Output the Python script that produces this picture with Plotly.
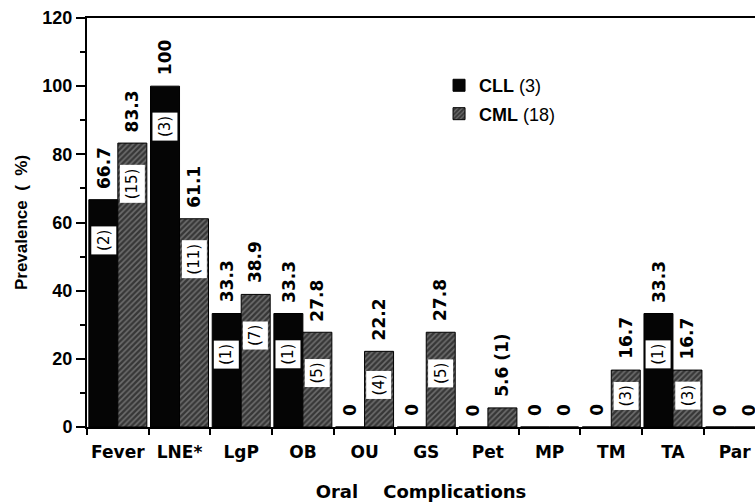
import plotly.graph_objects as go

categories = ["Fever", "LNE*", "LgP", "OB", "OU", "GS", "Pet", "MP", "TM", "TA", "Par"]
cll_values = [66.7, 100, 33.3, 33.3, 0, 0, 0, 0, 0, 33.3, 0]
cml_values = [83.3, 61.1, 38.9, 27.8, 22.2, 27.8, 5.6, 0, 16.7, 16.7, 0]
cll_counts = [2, 3, 1, 1, 0, 0, 0, 0, 0, 1, 0]
cml_counts = [15, 11, 7, 5, 4, 5, 1, 0, 3, 3, 0]
series_names = ["<b>CLL</b> (3)", "<b>CML</b> (18)"]
y_ticks = [0, 20, 40, 60, 80, 100, 120]

BARGAP = 0.06
VAL_FONT = dict(family="DejaVu Sans", size=17, color="black")
N_FONT = dict(family="DejaVu Sans", size=15, color="black")

xpos = [i + 0.5 for i in range(len(categories))]

fig = go.Figure()
fig.add_trace(go.Bar(
    x=xpos, y=cll_values, name=series_names[0],
    marker=dict(color="#050505", line=dict(color="black", width=1)),
    legendgroup="a",
))
fig.add_trace(go.Bar(
    x=xpos, y=cml_values, name=series_names[1],
    marker=dict(color="#333333", line=dict(color="black", width=1),
                pattern=dict(shape="/", fgcolor="#000000", bgcolor="#6e6e6e",
                             size=4, solidity=0.6)),
    legendgroup="b",
))

def fmt(v):
    return "{:g}".format(v)

half = (1 - BARGAP) / 4
annotations = []
for series_idx, (vals, counts) in enumerate([(cll_values, cll_counts), (cml_values, cml_counts)]):
    for i, (v, n) in enumerate(zip(vals, counts)):
        xc = xpos[i] + (-half if series_idx == 0 else half)
        small = 0 < v < 10
        label = fmt(v) + (" (%d)" % n if small and n else "")
        annotations.append(dict(
            x=xc, y=v, xref="x", yref="y", text="<b>%s</b>" % label,
            showarrow=False, textangle=-90, xanchor="center", yanchor="bottom",
            yshift=9, font=VAL_FONT,
        ))
        if n and not small:
            yc = v - min(12, 0.45 * v)
            annotations.append(dict(
                x=xc, y=yc, xref="x", yref="y", text="(%d)" % n,
                showarrow=False, textangle=-90, xanchor="center", yanchor="middle",
                font=N_FONT, bgcolor="white", borderpad=3,
            ))

fig.update_layout(
    width=755, height=502,
    margin=dict(l=87, r=0, t=18, b=75),
    paper_bgcolor="white", plot_bgcolor="white",
    barmode="group", bargap=BARGAP, bargroupgap=0,
    annotations=annotations,
    legend=dict(x=0.527, y=0.88, xanchor="left", yanchor="top",
                font=dict(family="Liberation Sans", size=18, color="black"),
                bgcolor="rgba(0,0,0,0)", tracegroupgap=2),
    xaxis=dict(
        range=[0, 10.83], tickmode="array", tickvals=xpos, ticktext=categories,
        ticks="", showgrid=False, zeroline=False, automargin=False,
        showline=True, linecolor="black", linewidth=2, mirror=True,
        ticklabelstandoff=9,
        tickfont=dict(family="DejaVu Sans", size=17, color="black", weight="bold"),
        minor=dict(tickmode="array", tickvals=list(range(len(categories) + 1)),
                   ticks="outside", ticklen=6, tickwidth=2, tickcolor="black", showgrid=False),
        title=dict(text="<b>Oral\u00a0\u00a0\u00a0\u00a0Complications</b>",
                   font=dict(family="DejaVu Sans", size=18, color="black"), standoff=33),
    ),
    yaxis=dict(
        range=[0, 120], tickmode="array", tickvals=y_ticks,
        ticks="outside", ticklen=9, tickwidth=2, tickcolor="black",
        showgrid=False, zeroline=False, automargin=False,
        showline=True, linecolor="black", linewidth=2,
        tickfont=dict(family="Liberation Sans", size=18, color="black", weight="bold"),
        minor=dict(dtick=10, ticks="outside", ticklen=5, tickwidth=2, tickcolor="black", showgrid=False),
        title=dict(text="<b>Prevalence\u00a0\u00a0(\u00a0\u00a0%)</b>",
                   font=dict(family="Liberation Sans", size=17, color="black"), standoff=10),
    ),
    showlegend=True,
)

# remove the default 8px page margin so the 755x502 figure fills the window exactly
fig.write_html("out.html", config={"displayModeBar": False},
               post_script="document.body.style.margin='0';")
